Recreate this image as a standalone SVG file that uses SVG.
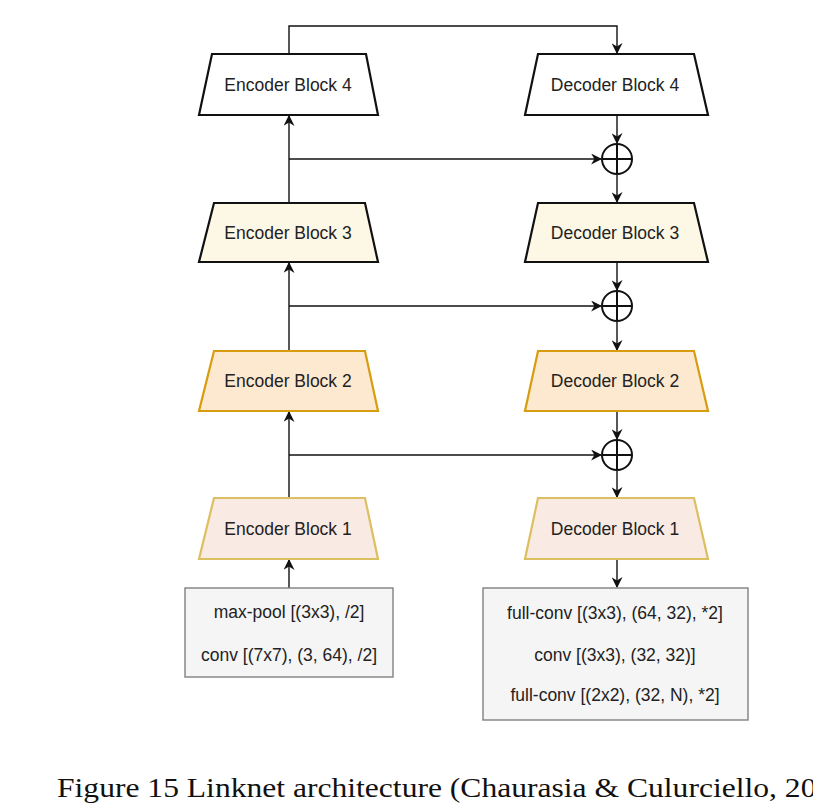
<svg xmlns="http://www.w3.org/2000/svg" width="813" height="810" viewBox="0 0 813 810">
<defs>
<marker id="ar" viewBox="0 0 10 10" refX="9" refY="5" markerWidth="11" markerHeight="11" markerUnits="userSpaceOnUse" orient="auto">
<path d="M0,0 L10,5 L0,10 L3,5 Z" fill="#111"/>
</marker>
</defs>
<style>
.t{font-family:"Liberation Sans",Arial,sans-serif;font-size:17.5px;fill:#222;text-anchor:middle}
.s{font-family:"Liberation Sans",Arial,sans-serif;font-size:17.5px;fill:#222;text-anchor:middle}
.b4{fill:#ffffff;stroke:#111;stroke-width:2.2}
.b3{fill:#fdf7e6;stroke:#111;stroke-width:2.2}
.b2{fill:#fde9cf;stroke:#d89c10;stroke-width:2.2}
.b1{fill:#faeae4;stroke:#dcbf60;stroke-width:2.2}
.box{fill:#f5f5f5;stroke:#808080;stroke-width:1.4}
.c{fill:none;stroke:#111;stroke-width:1.4}
.op{fill:#fff;stroke:#111;stroke-width:2}
.cap{font-family:"Liberation Serif","Times New Roman",serif;font-size:27px;fill:#111}
</style>
<rect width="813" height="810" fill="#fff"/>
<g id="connectors">
<path class="c" d="M289,54 V26 H617 V53" marker-end="url(#ar)"/>
<path class="c" d="M289,588 V560" marker-end="url(#ar)"/>
<path class="c" d="M289,498 V412" marker-end="url(#ar)"/>
<path class="c" d="M289,351 V263" marker-end="url(#ar)"/>
<path class="c" d="M289,203 V116" marker-end="url(#ar)"/>
<path class="c" d="M289,159 H601" marker-end="url(#ar)"/>
<path class="c" d="M289,306 H601" marker-end="url(#ar)"/>
<path class="c" d="M289,455 H601" marker-end="url(#ar)"/>
<path class="c" d="M617,115 V143" marker-end="url(#ar)"/>
<path class="c" d="M617,175 V202" marker-end="url(#ar)"/>
<path class="c" d="M617,262 V290" marker-end="url(#ar)"/>
<path class="c" d="M617,322 V350" marker-end="url(#ar)"/>
<path class="c" d="M617,411 V439" marker-end="url(#ar)"/>
<path class="c" d="M617,471 V497" marker-end="url(#ar)"/>
<path class="c" d="M617,559 V587" marker-end="url(#ar)"/>
</g>
<g id="enc4"><polygon class="b4" points="212,54 366,54 378,115 199,115"/><text class="t" x="288" y="91">Encoder Block 4</text></g>
<g id="enc3"><polygon class="b3" points="214,203 365,203 378,262 199,262"/><text class="t" x="288" y="239">Encoder Block 3</text></g>
<g id="enc2"><polygon class="b2" points="214,351 365,351 378,411 199,411"/><text class="t" x="288" y="387">Encoder Block 2</text></g>
<g id="enc1"><polygon class="b1" points="214,498 365,498 378,559 199,559"/><text class="t" x="288" y="535">Encoder Block 1</text></g>
<g id="dec4"><polygon class="b4" points="538,54 694,54 708,115 525,115"/><text class="t" x="615" y="91">Decoder Block 4</text></g>
<g id="dec3"><polygon class="b3" points="538,203 694,203 708,262 525,262"/><text class="t" x="615" y="239">Decoder Block 3</text></g>
<g id="dec2"><polygon class="b2" points="538,351 694,351 708,411 525,411"/><text class="t" x="615" y="387">Decoder Block 2</text></g>
<g id="dec1"><polygon class="b1" points="538,498 694,498 708,559 525,559"/><text class="t" x="615" y="535">Decoder Block 1</text></g>
<g id="add3"><circle class="op" cx="617" cy="159" r="15"/><path class="c" style="stroke-width:2" d="M602,159 H632 M617,144 V174"/></g>
<g id="add2"><circle class="op" cx="617" cy="306" r="15"/><path class="c" style="stroke-width:2" d="M602,306 H632 M617,291 V321"/></g>
<g id="add1"><circle class="op" cx="617" cy="455" r="15"/><path class="c" style="stroke-width:2" d="M602,455 H632 M617,440 V470"/></g>
<g id="init"><rect class="box" x="185" y="588" width="208" height="89"/><text class="s" x="289" y="618">max-pool [(3x3), /2]</text><text class="s" x="289" y="661">conv [(7x7), (3, 64), /2]</text></g>
<g id="final"><rect class="box" x="483" y="588" width="265" height="132"/><text class="s" x="615" y="619">full-conv [(3x3), (64, 32), *2]</text><text class="s" x="615" y="661">conv [(3x3), (32, 32)]</text><text class="s" x="615" y="701">full-conv [(2x2), (32, N), *2]</text></g>
<text class="cap" transform="translate(57,797) scale(1.17,1)">Figure 15 Linknet architecture (Chaurasia &amp; Culurciello, 2018)</text>
</svg>
